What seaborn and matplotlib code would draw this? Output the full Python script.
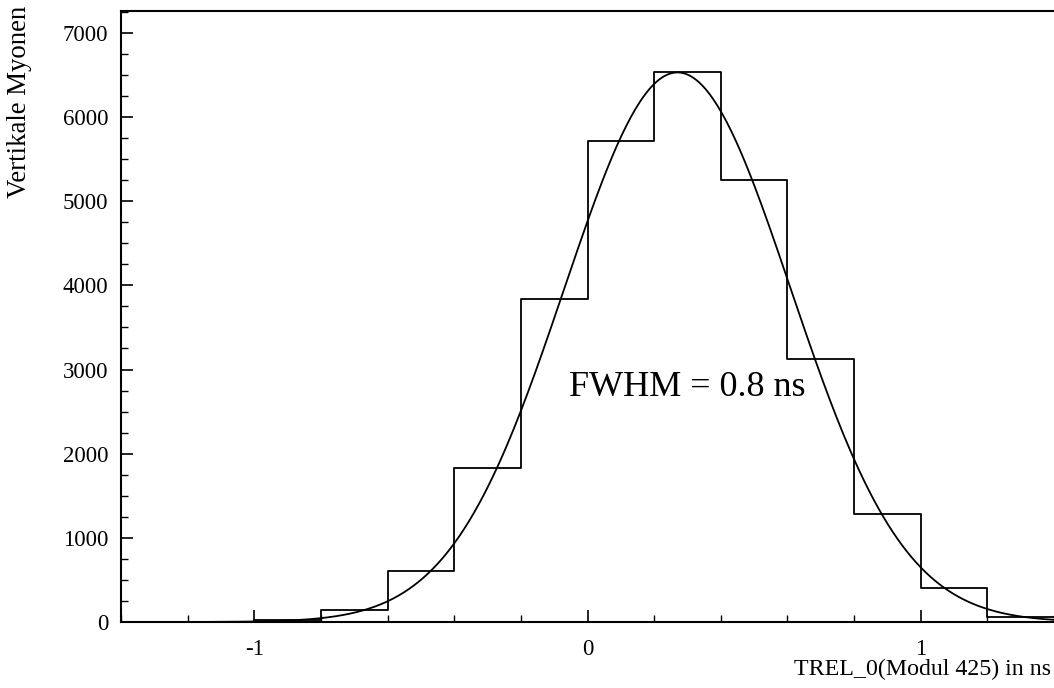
import numpy as np
import pandas as pd
import matplotlib
matplotlib.use("Agg")
import matplotlib.pyplot as plt
from matplotlib.ticker import MultipleLocator
import seaborn as sns

# Histogram of relative time offsets (bin width 0.2 ns)
bin_edges = [-1.4, -1.2, -1.0, -0.8, -0.6, -0.4, -0.2, 0.0, 0.2, 0.4, 0.6, 0.8, 1.0, 1.2, 1.4]
counts = [0, 0, 20, 140, 610, 1830, 3840, 5710, 6535, 5255, 3125, 1280, 400, 58]

# Gaussian fit parameters
fit_amplitude = 6530
fit_mean = 0.27
fwhm = 0.8

y_ticks = [0, 1000, 2000, 3000, 4000, 5000, 6000, 7000]
x_ticks = [-1, 0, 1]

sns.set_theme(style="white")
plt.rcParams["font.family"] = ["Liberation Serif", "DejaVu Serif"]
plt.rcParams["text.color"] = "black"

fig = plt.figure(figsize=(10.54, 6.88), dpi=100)
ax = fig.add_axes([121 / 1054, 66 / 688, 933 / 1054, 611 / 688])

edges = np.array(bin_edges)
centers = (edges[:-1] + edges[1:]) / 2
df = pd.DataFrame({"t": centers, "n": counts})
sns.histplot(data=df, x="t", weights="n", bins=list(bin_edges), element="step",
             fill=False, color="black", linewidth=1.3, ax=ax)

sigma = fwhm / (2 * np.sqrt(2 * np.log(2)))
xs = np.linspace(-1.4, 1.4, 400)
fit = pd.DataFrame({"t": xs,
                    "n": fit_amplitude * np.exp(-0.5 * ((xs - fit_mean) / sigma) ** 2)})
sns.lineplot(data=fit, x="t", y="n", color="black", linewidth=1.3, ax=ax)

ax.set_xlim(-1.4, 1.4)
ax.set_ylim(0, 7260)
ax.set_xticks(x_ticks)
ax.set_xticklabels([f"{v:d}" for v in x_ticks])
ax.xaxis.set_minor_locator(MultipleLocator(0.2))
ax.set_yticks(y_ticks)
ax.yaxis.set_minor_locator(MultipleLocator(250))

ax.tick_params(axis="both", which="both", direction="in", colors="black",
               labelsize=16.5, bottom=True, left=True, top=False, right=False)
ax.tick_params(axis="x", which="major", length=9, width=1.2, pad=12)
ax.tick_params(axis="x", which="minor", length=5, width=1.0)
ax.tick_params(axis="y", which="major", length=8.5, width=1.2, pad=9)
ax.tick_params(axis="y", which="minor", length=5, width=1.0)

for side in ["left", "top", "bottom"]:
    ax.spines[side].set_visible(True)
    ax.spines[side].set_color("black")
    ax.spines[side].set_linewidth(1.5)
ax.spines["right"].set_visible(False)

ax.set_xlabel("")
ax.set_ylabel("")
fig.text(1051 / 1054, 1 - 669 / 688, "TREL_0(Modul 425) in ns", ha="right",
         va="center", fontsize=17.2, color="black")
fig.text(20 / 1054, 1 - 6 / 688, "Vertikale Myonen", rotation=90, ha="center",
         va="top", fontsize=19.3, color="black")

ax.text(-0.055, 2680, "FWHM = 0.8 ns", fontsize=26, ha="left", va="baseline",
        color="black")

fig.savefig("out.png", dpi=100, facecolor="white")
